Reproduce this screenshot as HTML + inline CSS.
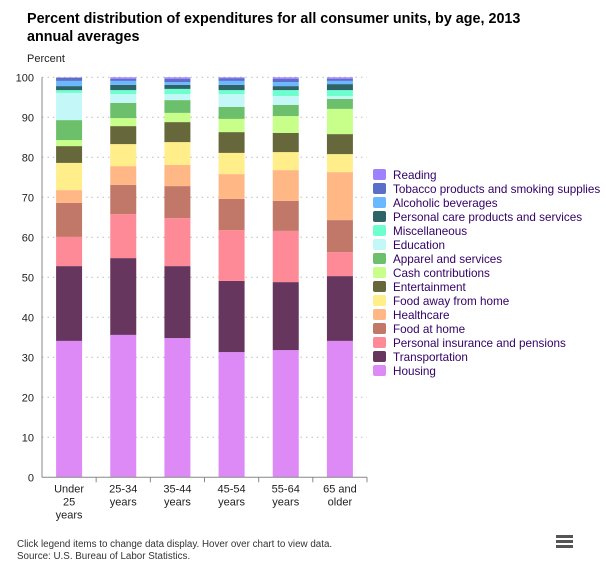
<!DOCTYPE html>
<html><head><meta charset="utf-8"><style>
body{margin:0;background:#fff;font-family:"Liberation Sans",sans-serif;}
#wrap{position:relative;width:606px;height:566px;overflow:hidden;}
</style></head><body>
<div id="wrap">
<svg id="chart" width="606" height="566" xmlns="http://www.w3.org/2000/svg">
<text x="27" y="23" font-size="14.35" font-weight="bold" fill="#000">Percent distribution of expenditures for all consumer units, by age, 2013</text>
<text x="27" y="41" font-size="14.35" font-weight="bold" fill="#000">annual averages</text>
<text x="27" y="62" font-size="11" fill="#222">Percent</text>
<g id="grid"></g><g id="bars"></g><g id="axes"></g><g id="legend"></g>
<text x="17" y="547" font-size="9.8" fill="#333">Click legend items to change data display. Hover over chart to view data.</text>
<text x="17" y="559" font-size="9.8" fill="#333">Source: U.S. Bureau of Labor Statistics.</text>
<g>
<rect x="556" y="535" width="17" height="3" fill="#555"/><rect x="556" y="540" width="17" height="3" fill="#555"/><rect x="556" y="545" width="17" height="3" fill="#555"/>
</g>
</svg>
</div>
<script>
const categories = [["Under","25","years"],["25-34","years"],["35-44","years"],["45-54","years"],["55-64","years"],["65 and","older"]];
const seriesNames = ["Housing","Transportation","Personal insurance and pensions","Food at home","Healthcare","Food away from home","Entertainment","Cash contributions","Apparel and services","Education","Miscellaneous","Personal care products and services","Alcoholic beverages","Tobacco products and smoking supplies","Reading"];
const seriesColors = ["#dd8af7","#66365f","#ff8a97","#c17868","#ffb786","#ffee8a","#66673a","#c8ff8a","#6cc06c","#c4f7f7","#6effcf","#2e6468","#6cb8ff","#5b6fc8","#9f80ff"];
const housing = [34.1,35.6,34.8,31.3,31.8,34.1];
const transportation = [18.7,19.2,18.0,17.8,17.0,16.2];
const personalInsurance = [7.3,11.0,12.0,12.7,12.8,6.0];
const foodAtHome = [8.5,7.3,8.0,7.8,7.5,8.0];
const healthcare = [3.2,4.7,5.3,6.2,7.7,12.0];
const foodAway = [6.8,5.5,5.7,5.3,4.5,4.5];
const entertainment = [4.2,4.5,5.0,5.2,4.8,5.0];
const cashContributions = [1.5,2.0,2.3,3.3,4.2,6.3];
const apparel = [5.0,3.8,3.2,3.0,2.8,2.5];
const education = [6.8,2.2,1.5,3.2,2.2,0.7];
const miscellaneous = [0.7,1.0,1.3,1.0,1.5,1.5];
const personalCare = [1.0,1.3,1.0,1.3,1.0,1.5];
const alcohol = [1.3,1.0,0.7,1.0,1.0,0.8];
const tobacco = [0.8,0.5,0.8,0.6,0.8,0.5];
const reading = [0.1,0.4,0.4,0.3,0.4,0.4];
const yTicks = [0,10,20,30,40,50,60,70,80,90,100];

const series = [housing,transportation,personalInsurance,foodAtHome,healthcare,foodAway,entertainment,cashContributions,apparel,education,miscellaneous,personalCare,alcohol,tobacco,reading];
const NS="http://www.w3.org/2000/svg";
const L=42,R=367,T=77.3,B=477.3;
const y=v=>B-(B-T)*v/100;
const bw=(R-L)/categories.length;
const xc=i=>L+bw*(i+0.5);
function mk(t,a,p){const e=document.createElementNS(NS,t);for(const k in a)e.setAttribute(k,a[k]);p.appendChild(e);return e;}
const grid=document.getElementById('grid'),bars=document.getElementById('bars'),axes=document.getElementById('axes'),leg=document.getElementById('legend');
yTicks.forEach(t=>{
  if(t>0){const g=mk('line',{x1:L,x2:R,y1:y(t),y2:y(t),stroke:'#bbb','stroke-dasharray':'1.5,4'},grid);
  
  }
  const tx=mk('text',{x:L-8,y:y(t)+4,'font-size':11,fill:'#222','text-anchor':'end'},axes);
  tx.textContent=t;
  
  
});
categories.forEach((c,i)=>{
  let cum=0;
  series.forEach((s,j)=>{
    const v=s[i];
    const r=mk('rect',{x:xc(i)-13,y:y(cum+v),width:26,height:y(cum)-y(cum+v),fill:seriesColors[j]},bars);
    
    
    cum+=v;
  });
  c.forEach((ln,k)=>{
    const tx=mk('text',{x:xc(i),y:B+15+k*13,'font-size':11,fill:'#222','text-anchor':'middle'},axes);
    tx.textContent=ln;
    
    
  });
  const tk=mk('line',{x1:L+bw*(i+1),x2:L+bw*(i+1),y1:B,y2:B+5,stroke:'#888'},axes);
  
  
});
const ya=mk('line',{x1:L,x2:L,y1:T,y2:B,stroke:'#888'},axes);


const xa=mk('line',{x1:L,x2:R,y1:B,y2:B,stroke:'#888'},axes);


for(let j=series.length-1;j>=0;j--){
  const row=series.length-1-j, yy=169+row*14;
  const g=mk('g',{},leg);
  
  
  mk('rect',{x:373,y:yy,width:13,height:11,rx:2,fill:seriesColors[j]},g);
  const tx=mk('text',{x:393,y:yy+10,'font-size':11.7,fill:'#330066'},g);
  tx.textContent=seriesNames[j];
}
</script>
</body></html>
